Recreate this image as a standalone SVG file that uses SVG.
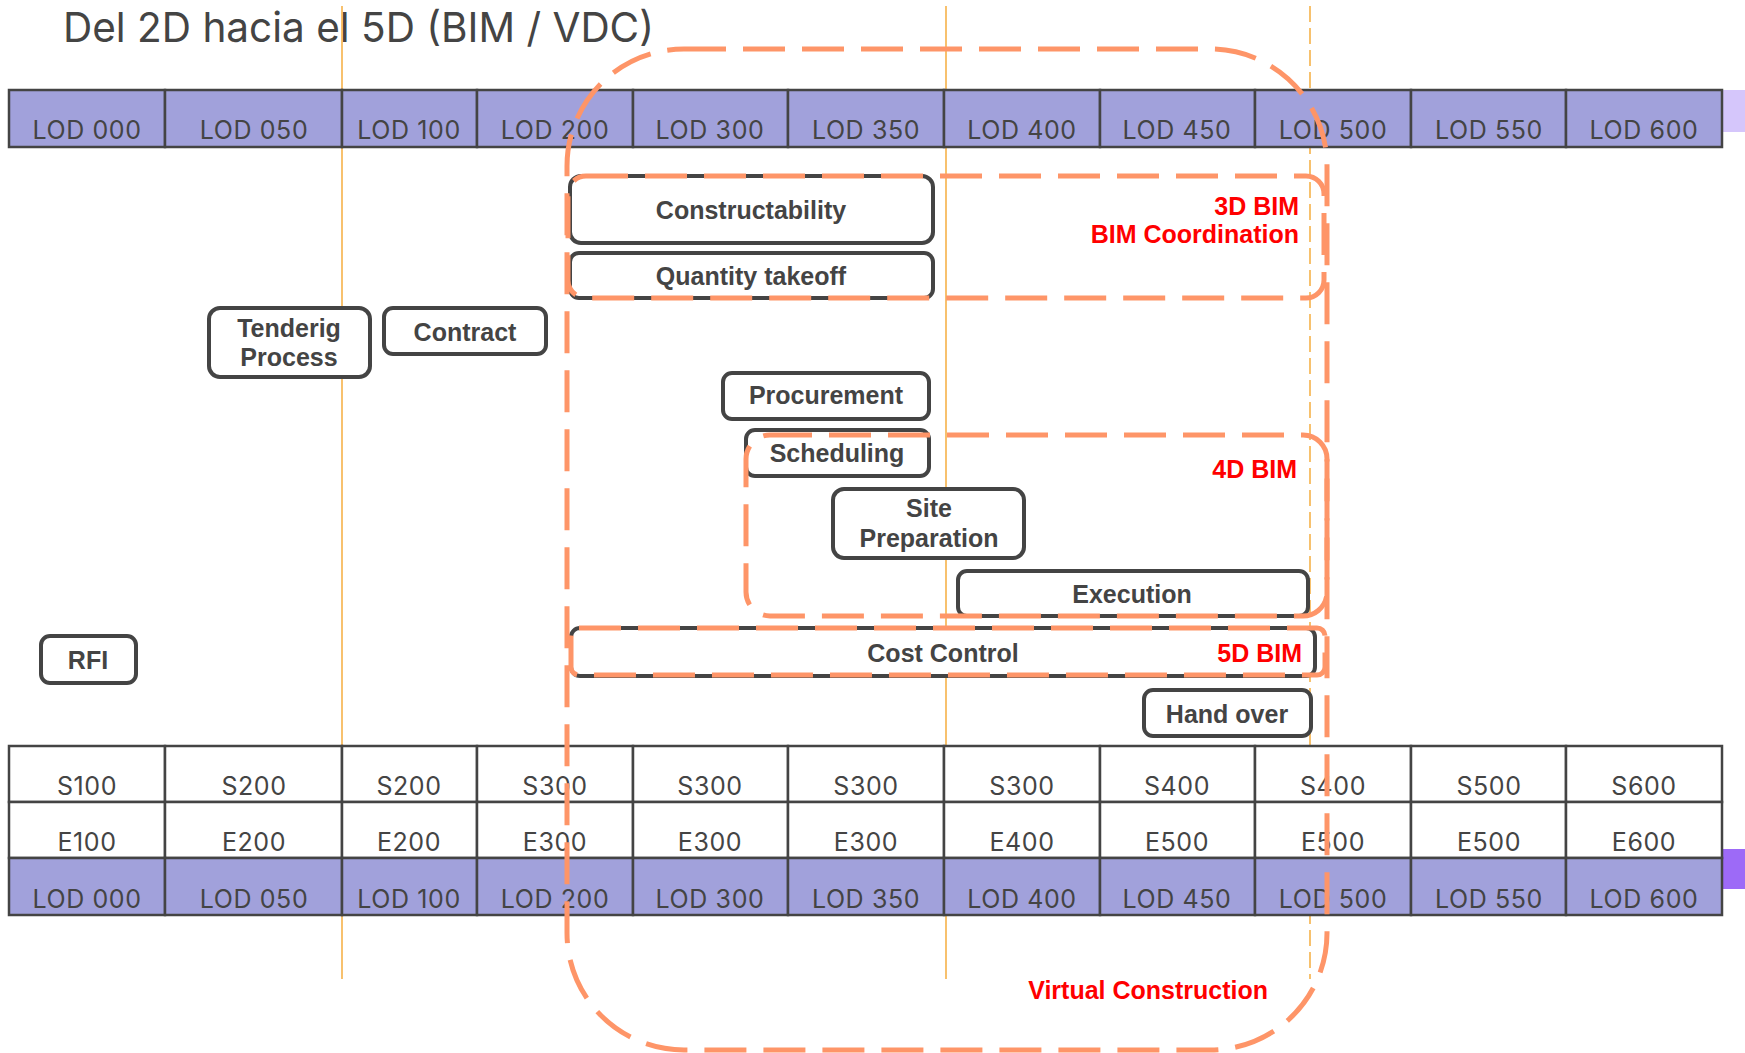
<svg xmlns="http://www.w3.org/2000/svg" width="1745" height="1053" viewBox="0 0 1745 1053">
<style>
.lod{font-family:Inter,"Liberation Sans",sans-serif;font-size:25px;fill:#444;text-anchor:middle;letter-spacing:0.6px}
.band{fill:#a1a1db;stroke:#444;stroke-width:2.5}
.cell{fill:#fff;stroke:#444;stroke-width:2.5}
.box{fill:#fff;stroke:#444;stroke-width:4}
.bl{font-family:"Liberation Sans",Arial,sans-serif;font-weight:bold;font-size:25px;fill:#444;text-anchor:middle}
.red{font-family:"Liberation Sans",Arial,sans-serif;font-weight:bold;font-size:25px;fill:#ff0000;text-anchor:end}
.grp{fill:none;stroke:#fe9568;stroke-width:5;stroke-dasharray:42 17}
.guide{stroke:#f6b24a;stroke-width:1.6;fill:none}
</style>
<rect width="1745" height="1053" fill="#fff"/>
<text x="63" y="42" font-family="Inter,'Liberation Sans',sans-serif" font-size="41" fill="#444" textLength="591" lengthAdjust="spacingAndGlyphs">Del 2D hacia el 5D (BIM / VDC)</text>

<g id="guides">
<line class="guide" x1="342" y1="6" x2="342" y2="979"/>
<line class="guide" x1="946" y1="6" x2="946" y2="979"/>
<line class="guide" x1="1310" y1="6" x2="1310" y2="979" stroke-dasharray="16 6"/>
</g>

<g id="top-lod">
<rect x="1722" y="90" width="23" height="42" fill="#d5c6fb"/>
<rect class="band" x="9" y="90" width="156" height="57"/>
<rect class="band" x="165" y="90" width="177" height="57"/>
<rect class="band" x="342" y="90" width="135" height="57"/>
<rect class="band" x="477" y="90" width="156" height="57"/>
<rect class="band" x="633" y="90" width="155" height="57"/>
<rect class="band" x="788" y="90" width="156" height="57"/>
<rect class="band" x="944" y="90" width="156" height="57"/>
<rect class="band" x="1100" y="90" width="155" height="57"/>
<rect class="band" x="1255" y="90" width="156" height="57"/>
<rect class="band" x="1411" y="90" width="155" height="57"/>
<rect class="band" x="1566" y="90" width="156" height="57"/>
<text class="lod" x="87" y="139">LOD 000</text>
<text class="lod" x="254" y="139">LOD 050</text>
<text class="lod" x="409" y="139">LOD 100</text>
<text class="lod" x="555" y="139">LOD 200</text>
<text class="lod" x="710" y="139">LOD 300</text>
<text class="lod" x="866" y="139">LOD 350</text>
<text class="lod" x="1022" y="139">LOD 400</text>
<text class="lod" x="1177" y="139">LOD 450</text>
<text class="lod" x="1333" y="139">LOD 500</text>
<text class="lod" x="1489" y="139">LOD 550</text>
<text class="lod" x="1644" y="139">LOD 600</text>
</g>

<g id="bottom-table">
<rect x="1722" y="849" width="23" height="40" fill="#9d6af7"/>
<g>
<rect class="cell" x="9" y="746" width="156" height="56"/>
<rect class="cell" x="165" y="746" width="177" height="56"/>
<rect class="cell" x="342" y="746" width="135" height="56"/>
<rect class="cell" x="477" y="746" width="156" height="56"/>
<rect class="cell" x="633" y="746" width="155" height="56"/>
<rect class="cell" x="788" y="746" width="156" height="56"/>
<rect class="cell" x="944" y="746" width="156" height="56"/>
<rect class="cell" x="1100" y="746" width="155" height="56"/>
<rect class="cell" x="1255" y="746" width="156" height="56"/>
<rect class="cell" x="1411" y="746" width="155" height="56"/>
<rect class="cell" x="1566" y="746" width="156" height="56"/>
<rect class="cell" x="9" y="802" width="156" height="56"/>
<rect class="cell" x="165" y="802" width="177" height="56"/>
<rect class="cell" x="342" y="802" width="135" height="56"/>
<rect class="cell" x="477" y="802" width="156" height="56"/>
<rect class="cell" x="633" y="802" width="155" height="56"/>
<rect class="cell" x="788" y="802" width="156" height="56"/>
<rect class="cell" x="944" y="802" width="156" height="56"/>
<rect class="cell" x="1100" y="802" width="155" height="56"/>
<rect class="cell" x="1255" y="802" width="156" height="56"/>
<rect class="cell" x="1411" y="802" width="155" height="56"/>
<rect class="cell" x="1566" y="802" width="156" height="56"/>
<rect class="band" x="9" y="858" width="156" height="57"/>
<rect class="band" x="165" y="858" width="177" height="57"/>
<rect class="band" x="342" y="858" width="135" height="57"/>
<rect class="band" x="477" y="858" width="156" height="57"/>
<rect class="band" x="633" y="858" width="155" height="57"/>
<rect class="band" x="788" y="858" width="156" height="57"/>
<rect class="band" x="944" y="858" width="156" height="57"/>
<rect class="band" x="1100" y="858" width="155" height="57"/>
<rect class="band" x="1255" y="858" width="156" height="57"/>
<rect class="band" x="1411" y="858" width="155" height="57"/>
<rect class="band" x="1566" y="858" width="156" height="57"/>
</g>
<text class="lod" x="87" y="795">S100</text>
<text class="lod" x="254" y="795">S200</text>
<text class="lod" x="409" y="795">S200</text>
<text class="lod" x="555" y="795">S300</text>
<text class="lod" x="710" y="795">S300</text>
<text class="lod" x="866" y="795">S300</text>
<text class="lod" x="1022" y="795">S300</text>
<text class="lod" x="1177" y="795">S400</text>
<text class="lod" x="1333" y="795">S400</text>
<text class="lod" x="1489" y="795">S500</text>
<text class="lod" x="1644" y="795">S600</text>
<text class="lod" x="87" y="851">E100</text>
<text class="lod" x="254" y="851">E200</text>
<text class="lod" x="409" y="851">E200</text>
<text class="lod" x="555" y="851">E300</text>
<text class="lod" x="710" y="851">E300</text>
<text class="lod" x="866" y="851">E300</text>
<text class="lod" x="1022" y="851">E400</text>
<text class="lod" x="1177" y="851">E500</text>
<text class="lod" x="1333" y="851">E500</text>
<text class="lod" x="1489" y="851">E500</text>
<text class="lod" x="1644" y="851">E600</text>
<text class="lod" x="87" y="908">LOD 000</text>
<text class="lod" x="254" y="908">LOD 050</text>
<text class="lod" x="409" y="908">LOD 100</text>
<text class="lod" x="555" y="908">LOD 200</text>
<text class="lod" x="710" y="908">LOD 300</text>
<text class="lod" x="866" y="908">LOD 350</text>
<text class="lod" x="1022" y="908">LOD 400</text>
<text class="lod" x="1177" y="908">LOD 450</text>
<text class="lod" x="1333" y="908">LOD 500</text>
<text class="lod" x="1489" y="908">LOD 550</text>
<text class="lod" x="1644" y="908">LOD 600</text>
</g>

<g id="tendering"><rect class="box" x="209" y="308" width="161" height="69" rx="11"/><text class="bl" x="289" y="337">Tenderig</text><text class="bl" x="289" y="366">Process</text></g>
<g id="contract"><rect class="box" x="384" y="308" width="162" height="46" rx="9"/><text class="bl" x="465" y="341">Contract</text></g>
<g id="constructability"><rect class="box" x="570" y="176" width="363" height="67" rx="11"/><text class="bl" x="751" y="219">Constructability</text></g>
<g id="quantity"><rect class="box" x="570" y="253" width="363" height="45" rx="9"/><text class="bl" x="751" y="285">Quantity takeoff</text></g>
<g id="procurement"><rect class="box" x="723" y="373" width="206" height="46" rx="9"/><text class="bl" x="826" y="404">Procurement</text></g>
<g id="scheduling"><rect class="box" x="746" y="430" width="183" height="46" rx="9"/><text class="bl" x="837" y="462">Scheduling</text></g>
<g id="site"><rect class="box" x="833" y="489" width="191" height="69" rx="11"/><text class="bl" x="929" y="517">Site</text><text class="bl" x="929" y="547">Preparation</text></g>
<g id="execution"><rect class="box" x="958" y="571" width="350" height="45" rx="9"/><text class="bl" x="1132" y="603">Execution</text></g>
<g id="cost"><rect class="box" x="571" y="628" width="744" height="48" rx="9"/><text class="bl" x="943" y="662">Cost Control</text></g>
<g id="handover"><rect class="box" x="1144" y="690" width="167" height="46" rx="9"/><text class="bl" x="1227" y="723">Hand over</text></g>
<g id="rfi"><rect class="box" x="41" y="636" width="95" height="47" rx="9"/><text class="bl" x="88" y="669">RFI</text></g>

<g id="bim3d"><rect class="grp" x="568" y="176" width="756" height="122" rx="18"/><text class="red" x="1299" y="215">3D BIM</text><text class="red" x="1299" y="243">BIM Coordination</text></g>
<g id="bim4d"><rect class="grp" x="746" y="435" width="581" height="181" rx="24"/><text class="red" x="1297" y="478">4D BIM</text></g>
<g id="bim5d"><rect class="grp" x="571" y="628" width="754" height="47" rx="8"/><text class="red" x="1302" y="662">5D BIM</text></g>
<g id="virtual"><rect class="grp" x="567" y="49" width="760" height="1001" rx="117"/><text class="red" x="1268" y="999">Virtual Construction</text></g>
</svg>
